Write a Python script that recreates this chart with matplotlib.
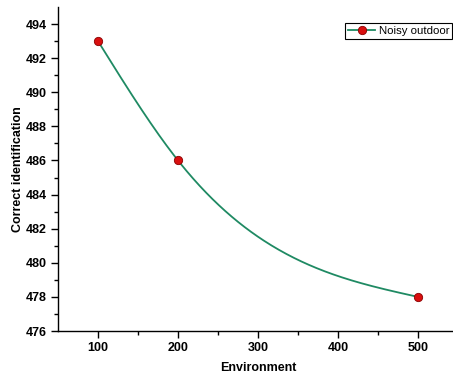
import numpy as np
import matplotlib.pyplot as plt

environment = [100, 200, 500]
correct_id = [493, 486, 478]
series_label = "Noisy outdoor"


def natural_spline(x, y, xs):
    # natural cubic spline through the points, for a smooth connecting line
    x = np.asarray(x, float)
    y = np.asarray(y, float)
    n = len(x)
    h = np.diff(x)
    A = np.zeros((n, n))
    r = np.zeros(n)
    A[0, 0] = A[-1, -1] = 1
    for i in range(1, n - 1):
        A[i, i - 1] = h[i - 1]
        A[i, i] = 2 * (h[i - 1] + h[i])
        A[i, i + 1] = h[i]
        r[i] = 6 * ((y[i + 1] - y[i]) / h[i] - (y[i] - y[i - 1]) / h[i - 1])
    M = np.linalg.solve(A, r)
    out = np.empty_like(xs)
    for k, xv in enumerate(xs):
        i = min(np.searchsorted(x, xv, side='right') - 1, n - 2)
        i = max(i, 0)
        a = x[i + 1] - xv
        b = xv - x[i]
        out[k] = (M[i] * a**3 + M[i + 1] * b**3) / (6 * h[i]) \
            + (y[i] / h[i] - M[i] * h[i] / 6) * a \
            + (y[i + 1] / h[i] - M[i + 1] * h[i] / 6) * b
    return out


plt.rcParams['font.family'] = ['Liberation Sans', 'DejaVu Sans']

fig = plt.figure(figsize=(4.53, 3.78), dpi=100)
ax = fig.add_axes([58 / 453, 1 - 331 / 378, 400 / 453, 324 / 378])

line_color = '#1f8a63'
xs = np.linspace(environment[0], environment[-1], 300)
ax.plot(xs, natural_spline(environment, correct_id, xs), color=line_color, lw=1.3, zorder=2)
ax.plot(environment, correct_id, 'o', color='#d90f0f', mec='#8a0000', mew=0.6, ms=6, zorder=3)

# legend proxy
ax.plot([], [], '-o', color=line_color, mfc='#d90f0f', mec='#8a0000', mew=0.6, ms=6, lw=1.3,
        label=series_label)
leg = ax.legend(loc='upper left', bbox_to_anchor=(345 / 453, 1 - 23 / 378),
                bbox_transform=fig.transFigure, borderaxespad=0, fontsize=8.2,
                handlelength=2.4, handletextpad=0.3, borderpad=0.25, fancybox=False,
                framealpha=1, edgecolor='black')
leg.get_frame().set_linewidth(0.8)

ax.set_xlim(50, 550)
ax.set_ylim(476, 495)
ax.set_xticks([100, 200, 300, 400, 500])
ax.set_xticks([150, 250, 350, 450], minor=True)
ax.set_yticks(np.arange(476, 495, 2))
ax.set_yticks(np.arange(477, 495, 2), minor=True)

ax.spines['top'].set_visible(False)
ax.spines['right'].set_visible(False)
ax.spines['left'].set_linewidth(1)
ax.spines['bottom'].set_linewidth(1)
ax.tick_params(which='major', direction='out', length=5, width=1, labelsize=9, pad=3)
ax.tick_params(which='minor', direction='out', length=3, width=1)
for lab in ax.get_xticklabels() + ax.get_yticklabels():
    lab.set_fontweight('bold')

ax.set_xlabel("Environment", fontsize=9, fontweight='bold', labelpad=6)
ax.set_ylabel("Correct identification", fontsize=9, fontweight='bold', labelpad=1)

fig.savefig('out.png', dpi=100)
